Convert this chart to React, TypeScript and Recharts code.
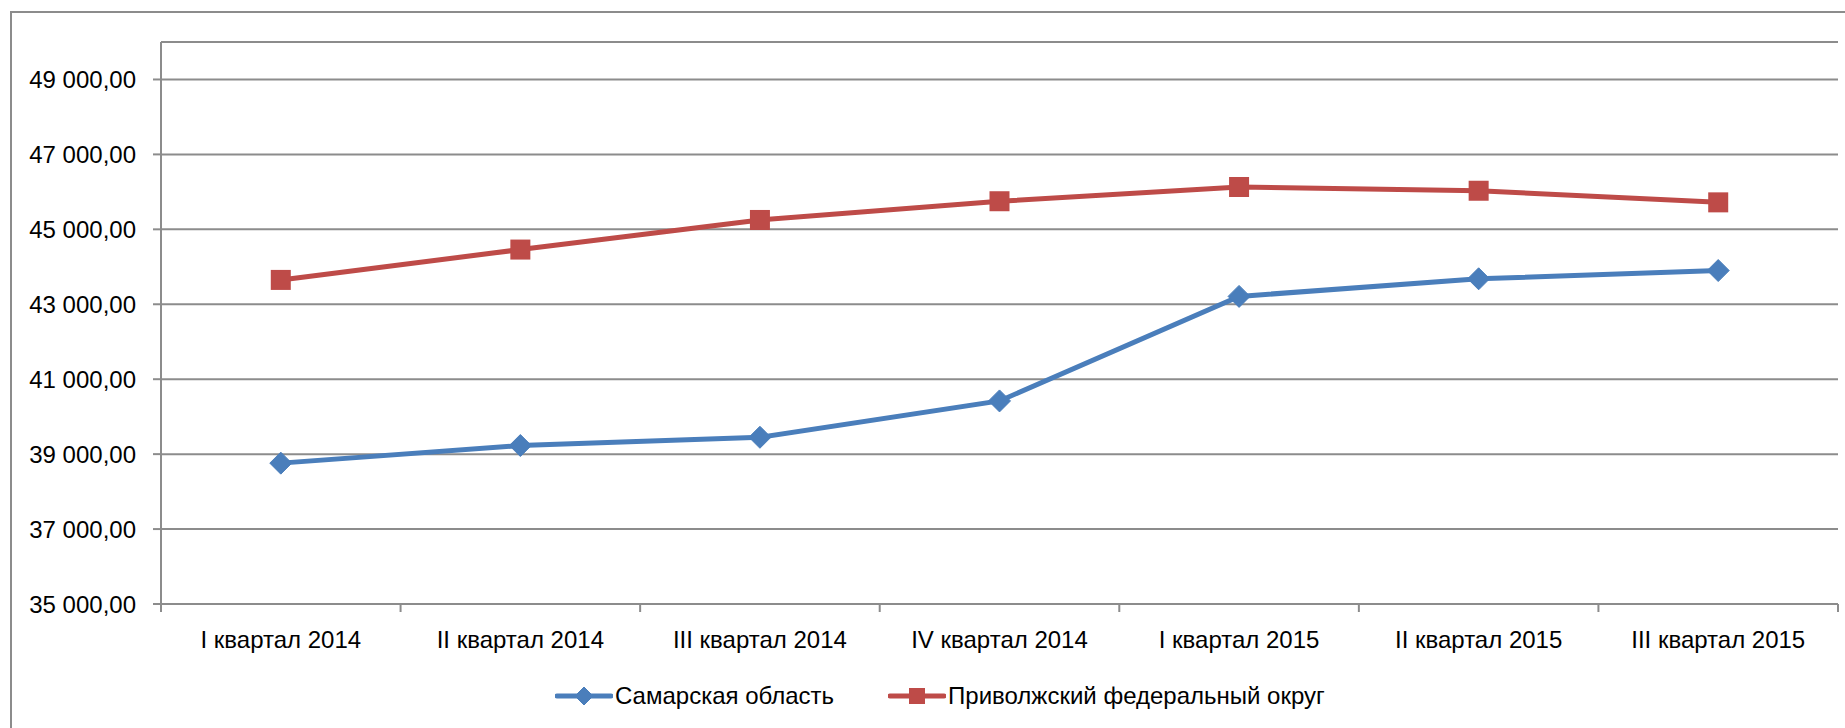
import { CartesianGrid, Legend, Line, LineChart, XAxis, YAxis } from "recharts";

const CATEGORIES = [
  "I квартал 2014",
  "II квартал 2014",
  "III квартал 2014",
  "IV квартал 2014",
  "I квартал 2015",
  "II квартал 2015",
  "III квартал 2015",
];
const SAMARA = [38760, 39230, 39450, 40420, 43210, 43680, 43900];
const PFO = [43650, 44460, 45250, 45750, 46130, 46030, 45720];
const SERIES_NAMES = ["Самарская область", "Приволжский федеральный округ"];
const Y_TICKS = [35000, 37000, 39000, 41000, 43000, 45000, 47000, 49000];
const Y_DOMAIN = [35000, 50000];

const W = 1845;
const H = 728;
const LEFT = 161;
const RIGHT = 7;
const PLOT_W = W - LEFT - RIGHT;
const HALF_BAND = PLOT_W / CATEGORIES.length / 2;
const LABEL_GAP = 27;

const FONT = "'Liberation Sans', Arial, sans-serif";
const AXIS = "#8c8c8c";
const BLUE = "#4a7ebb";
const RED = "#be4b48";

const data = CATEGORIES.map((c, i) => ({ name: c, samara: SAMARA[i], pfo: PFO[i] }));

const fmt = (v: number) => `${Math.floor(v / 1000)} ${String(v % 1000).padStart(3, "0")},00`;

function XTick(props: any) {
  const { x, y, payload, index, visibleTicksCount } = props;
  const axisY = y - LABEL_GAP;
  const last = index === visibleTicksCount - 1;
  return (
    <g>
      <line x1={x - HALF_BAND} x2={x - HALF_BAND} y1={axisY} y2={axisY + 8} stroke={AXIS} strokeWidth={2} />
      {last && <line x1={x + HALF_BAND} x2={x + HALF_BAND} y1={axisY} y2={axisY + 8} stroke={AXIS} strokeWidth={2} />}
      <text x={x} y={y} dy="0.71em" textAnchor="middle" fontSize={24} fontFamily={FONT} fill="#000">
        {payload.value}
      </text>
    </g>
  );
}

function Diamond({ cx, cy, r, color }: { cx: number; cy: number; r: number; color: string }) {
  return <polygon points={`${cx},${cy - r} ${cx + r},${cy} ${cx},${cy + r} ${cx - r},${cy}`} fill={color} stroke={color} strokeWidth={1} />;
}

function Square({ cx, cy, r, color }: { cx: number; cy: number; r: number; color: string }) {
  return <rect x={cx - r} y={cy - r} width={r * 2} height={r * 2} fill={color} />;
}

function LegendContent() {
  const items = [
    { name: SERIES_NAMES[0], color: BLUE, marker: "diamond" },
    { name: SERIES_NAMES[1], color: RED, marker: "square" },
  ];
  return (
    <div style={{ display: "flex", alignItems: "center", gap: 54, fontFamily: FONT, fontSize: 24, color: "#000" }}>
      {items.map((it) => (
        <div key={it.name} style={{ display: "flex", alignItems: "center" }}>
          <svg width={58} height={24} style={{ marginRight: 2 }}>
            <line x1={2} x2={56} y1={12} y2={12} stroke={it.color} strokeWidth={5} strokeLinecap="round" />
            {it.marker === "diamond" ? (
              <Diamond cx={29} cy={12} r={9} color={it.color} />
            ) : (
              <Square cx={29} cy={12} r={8} color={it.color} />
            )}
          </svg>
          <span style={{ lineHeight: "28px" }}>{it.name}</span>
        </div>
      ))}
    </div>
  );
}

export default function App() {
  return (
    <div style={{ position: "fixed", left: 0, top: 0, width: W, height: H, overflow: "hidden", background: "#fff" }}>
      <div
        style={{
          position: "absolute",
          left: 10,
          top: 11,
          width: 1900,
          height: 800,
          border: `2px solid ${AXIS}`,
          boxSizing: "border-box",
        }}
      />
      <div style={{ position: "absolute", left: 0, top: 0 }}>
        <LineChart width={W} height={H} data={data} margin={{ top: 42, right: RIGHT, left: 0, bottom: 0 }}>
          <CartesianGrid horizontal vertical={false} stroke={AXIS} strokeWidth={2} />
          <XAxis
            dataKey="name"
            height={124}
            padding={{ left: HALF_BAND, right: HALF_BAND }}
            axisLine={{ stroke: AXIS, strokeWidth: 2 }}
            tickLine={false}
            tickSize={0}
            tickMargin={LABEL_GAP}
            interval={0}
            tick={<XTick />}
          />
          <YAxis
            width={LEFT}
            domain={Y_DOMAIN}
            ticks={Y_TICKS}
            allowDataOverflow
            tickFormatter={fmt}
            tick={{ fontSize: 24, fontFamily: FONT, fill: "#000" }}
            axisLine={{ stroke: AXIS, strokeWidth: 2 }}
            tickLine={{ stroke: AXIS, strokeWidth: 2 }}
            tickSize={8}
            tickMargin={17}
          />
          <Legend
            verticalAlign="middle"
            align="center"
            layout="horizontal"
            wrapperStyle={{ left: 555, top: 682, width: "auto" }}
            content={<LegendContent />}
          />
          <Line
            type="linear"
            dataKey="samara"
            name={SERIES_NAMES[0]}
            stroke={BLUE}
            strokeWidth={5}
            isAnimationActive={false}
            dot={(p: any) => <Diamond key={p.index} cx={p.cx} cy={p.cy} r={11} color={BLUE} />}
            activeDot={false}
          />
          <Line
            type="linear"
            dataKey="pfo"
            name={SERIES_NAMES[1]}
            stroke={RED}
            strokeWidth={5}
            isAnimationActive={false}
            dot={(p: any) => <Square key={p.index} cx={p.cx} cy={p.cy} r={10} color={RED} />}
            activeDot={false}
          />
        </LineChart>
      </div>
    </div>
  );
}
